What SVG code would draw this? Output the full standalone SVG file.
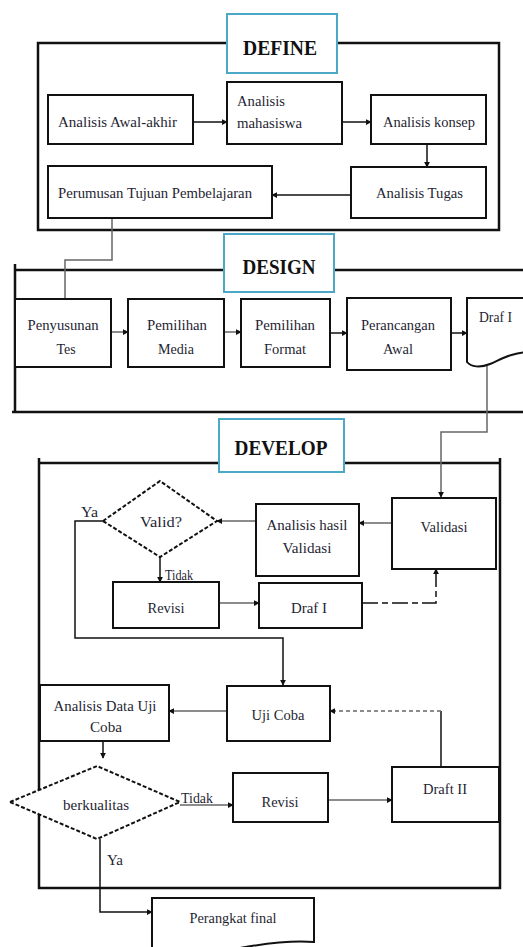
<svg xmlns="http://www.w3.org/2000/svg" width="523" height="947" viewBox="0 0 523 947">
<style>
  .frame{fill:none;stroke:#111;stroke-width:2.5}
  .phase{fill:#fff;stroke:#4ba8c6;stroke-width:2}
  .box{fill:#fff;stroke:#111;stroke-width:2}
  .dia{fill:#fff;stroke:#111;stroke-width:2;stroke-dasharray:4 2}
  .t{font-family:"Liberation Serif","Times New Roman",serif;font-size:14px;fill:#1f1f33}
  .h{font-family:"Liberation Serif","Times New Roman",serif;font-size:22px;font-weight:bold;fill:#111}
  .c{fill:none;stroke:#111;stroke-width:1.5}
  .g{fill:none;stroke:#666;stroke-width:1.5}
</style>
<defs>
  <marker id="ah" viewBox="0 0 8 8" refX="7" refY="4" markerWidth="6" markerHeight="6" markerUnits="userSpaceOnUse" orient="auto">
    <path d="M0,0 L8,4 L0,8 Z" fill="#111"/>
  </marker>
</defs>
<rect width="523" height="947" fill="#fff"/>

<!-- frames -->
<g id="frames">
  <rect class="frame" x="38" y="43" width="461" height="187"/>
  <path class="frame" d="M15 264 V412 M15 270 H530 M12 412 H530"/>
  <path class="frame" d="M39 458 V888 H500 V458 M39 463 H500"/>
</g>

<g id="connectors">
  <path class="c" d="M193 122 H227" marker-end="url(#ah)"/>
  <path class="c" d="M342 122 H371" marker-end="url(#ah)"/>
  <path class="c" d="M427 144 V167" marker-end="url(#ah)"/>
  <path class="c" d="M351 195 H272" marker-end="url(#ah)"/>
  <path class="g" d="M112 218 V260 H65 V299"/>
  <path class="g" d="M111 332 H128" marker-end="url(#ah)"/>
  <path class="g" d="M224 332 H241" marker-end="url(#ah)"/>
  <path class="c" d="M330 333 H347" marker-end="url(#ah)"/>
  <path class="c" d="M451 333 H467" marker-end="url(#ah)"/>
  <path class="g" d="M487 366 V432 H441 V497" marker-end="url(#ah)"/>
  <path class="g" d="M392 523 H359" marker-end="url(#ah)"/>
  <path class="g" d="M256 521 H217" marker-end="url(#ah)"/>
  <path class="c" d="M160 557 V582" marker-end="url(#ah)"/>
  <path class="c" d="M103 521 H75 V638 H283 V685" marker-end="url(#ah)"/>
  <path class="g" d="M219 603 H259" marker-end="url(#ah)"/>
  <path class="c" d="M362 603 H436 V569" stroke-dasharray="16 4 6 4" marker-end="url(#ah)"/>
  <path class="g" d="M227 711 H169" marker-end="url(#ah)"/>
  <path class="c" d="M441 767 V711"/>
  <path class="g" d="M441 711 H330" stroke-dasharray="4 3" marker-end="url(#ah)"/>
  <path class="c" d="M103 741 V758" marker-end="url(#ah)"/>
  <path class="g" d="M180 805 H233" marker-end="url(#ah)"/>
  <path class="g" d="M328 800 H392" marker-end="url(#ah)"/>
  <path class="c" d="M100 839 V912 H152" marker-end="url(#ah)"/>
</g>

<g id="define">
  <rect class="phase" x="227" y="14" width="110" height="59"/>
  <text class="h" x="280" y="55" text-anchor="middle" textLength="74" lengthAdjust="spacingAndGlyphs">DEFINE</text>
</g>
<g id="awal-akhir">
  <rect class="box" x="48" y="95" width="145" height="49"/>
  <text class="t" x="58" y="127" textLength="119" lengthAdjust="spacingAndGlyphs">Analisis Awal-akhir</text>
</g>
<g id="mahasiswa">
  <rect class="box" x="227" y="82" width="115" height="62"/>
  <text class="t" x="237" y="106" textLength="48" lengthAdjust="spacingAndGlyphs">Analisis</text>
  <text class="t" x="237" y="128" textLength="65" lengthAdjust="spacingAndGlyphs">mahasiswa</text>
</g>
<g id="konsep">
  <rect class="box" x="371" y="95" width="115" height="49"/>
  <text class="t" x="383" y="127" textLength="92" lengthAdjust="spacingAndGlyphs">Analisis konsep</text>
</g>
<g id="tugas">
  <rect class="box" x="351" y="167" width="135" height="51"/>
  <text class="t" x="376" y="198" textLength="87" lengthAdjust="spacingAndGlyphs">Analisis Tugas</text>
</g>
<g id="perumusan">
  <rect class="box" x="48" y="166" width="224" height="52"/>
  <text class="t" x="58" y="198" textLength="194" lengthAdjust="spacingAndGlyphs">Perumusan Tujuan Pembelajaran</text>
</g>

<g id="design">
  <rect class="phase" x="224" y="234" width="110" height="58"/>
  <text class="h" x="279" y="274" text-anchor="middle" textLength="73" lengthAdjust="spacingAndGlyphs">DESIGN</text>
</g>
<g id="penyusunan">
  <rect class="box" x="15" y="299" width="96" height="68"/>
  <text class="t" x="63" y="330" text-anchor="middle" textLength="71" lengthAdjust="spacingAndGlyphs">Penyusunan</text>
  <text class="t" x="66" y="354" text-anchor="middle">Tes</text>
</g>
<g id="media">
  <rect class="box" x="128" y="299" width="96" height="68"/>
  <text class="t" x="177" y="330" text-anchor="middle" textLength="60" lengthAdjust="spacingAndGlyphs">Pemilihan</text>
  <text class="t" x="176" y="354" text-anchor="middle" textLength="36" lengthAdjust="spacingAndGlyphs">Media</text>
</g>
<g id="format">
  <rect class="box" x="241" y="299" width="89" height="68"/>
  <text class="t" x="285" y="330" text-anchor="middle" textLength="60" lengthAdjust="spacingAndGlyphs">Pemilihan</text>
  <text class="t" x="285" y="354" text-anchor="middle" textLength="42" lengthAdjust="spacingAndGlyphs">Format</text>
</g>
<g id="perancangan">
  <rect class="box" x="347" y="298" width="104" height="72"/>
  <text class="t" x="398" y="330" text-anchor="middle" textLength="74" lengthAdjust="spacingAndGlyphs">Perancangan</text>
  <text class="t" x="398" y="354" text-anchor="middle" textLength="30" lengthAdjust="spacingAndGlyphs">Awal</text>
</g>
<g id="draf1-design">
  <path class="box" d="M467 298 H530 V352 C512 352 500 360 490 364 C480 368 471 367 467 362 Z"/>
  <text class="t" x="479" y="322" textLength="33" lengthAdjust="spacingAndGlyphs">Draf I</text>
</g>

<g id="develop">
  <rect class="phase" x="219" y="419" width="125" height="53"/>
  <text class="h" x="281" y="455" text-anchor="middle" textLength="93" lengthAdjust="spacingAndGlyphs">DEVELOP</text>
</g>
<g id="valid">
  <path class="dia" d="M103 521 L160 481 L217 521 L160 557 Z"/>
  <text class="t" x="161" y="527" text-anchor="middle" textLength="42" lengthAdjust="spacingAndGlyphs">Valid?</text>
</g>
<g id="analisis-hasil">
  <rect class="box" x="256" y="504" width="103" height="72"/>
  <text class="t" x="307" y="530" text-anchor="middle" textLength="81" lengthAdjust="spacingAndGlyphs">Analisis hasil</text>
  <text class="t" x="307" y="553" text-anchor="middle" textLength="49" lengthAdjust="spacingAndGlyphs">Validasi</text>
</g>
<g id="validasi">
  <rect class="box" x="392" y="498" width="104" height="71"/>
  <text class="t" x="444" y="532" text-anchor="middle" textLength="47" lengthAdjust="spacingAndGlyphs">Validasi</text>
</g>
<g id="revisi1">
  <rect class="box" x="113" y="582" width="106" height="46"/>
  <text class="t" x="166" y="613" text-anchor="middle" textLength="37" lengthAdjust="spacingAndGlyphs">Revisi</text>
</g>
<g id="draf1-develop">
  <rect class="box" x="259" y="583" width="103" height="45"/>
  <text class="t" x="309" y="613" text-anchor="middle" textLength="36" lengthAdjust="spacingAndGlyphs">Draf I</text>
</g>
<g id="labels-valid">
  <text class="t" x="81" y="517" textLength="17" lengthAdjust="spacingAndGlyphs">Ya</text>
  <text class="t" x="165" y="580" font-size="12" textLength="28" lengthAdjust="spacingAndGlyphs">Tidak</text>
</g>
<g id="uji-coba">
  <rect class="box" x="227" y="686" width="103" height="55"/>
  <text class="t" x="278" y="720" text-anchor="middle" textLength="53" lengthAdjust="spacingAndGlyphs">Uji Coba</text>
</g>
<g id="analisis-data">
  <rect class="box" x="40" y="685" width="129" height="56"/>
  <text class="t" x="105" y="711" text-anchor="middle" textLength="103" lengthAdjust="spacingAndGlyphs">Analisis Data Uji</text>
  <text class="t" x="106" y="732" text-anchor="middle" textLength="32" lengthAdjust="spacingAndGlyphs">Coba</text>
</g>
<g id="berkualitas">
  <path class="dia" d="M10 802 L97 766 L180 802 L97 839 Z"/>
  <text class="t" x="96" y="810" text-anchor="middle" textLength="66" lengthAdjust="spacingAndGlyphs">berkualitas</text>
</g>
<g id="revisi2">
  <rect class="box" x="233" y="773" width="95" height="49"/>
  <text class="t" x="280" y="807" text-anchor="middle" textLength="37" lengthAdjust="spacingAndGlyphs">Revisi</text>
</g>
<g id="draft2">
  <rect class="box" x="392" y="767" width="107" height="55"/>
  <text class="t" x="445" y="794" text-anchor="middle" textLength="44" lengthAdjust="spacingAndGlyphs">Draft II</text>
</g>
<g id="labels-berkualitas">
  <text class="t" x="181" y="803" textLength="32" lengthAdjust="spacingAndGlyphs">Tidak</text>
  <text class="t" x="107" y="865" textLength="16" lengthAdjust="spacingAndGlyphs">Ya</text>
</g>
<g id="perangkat-final">
  <path class="box" d="M152 952 V898 H314 V942 C290 940 262 944 240 948"/>
  <text class="t" x="233" y="923" text-anchor="middle" textLength="87" lengthAdjust="spacingAndGlyphs">Perangkat final</text>
</g>
</svg>
